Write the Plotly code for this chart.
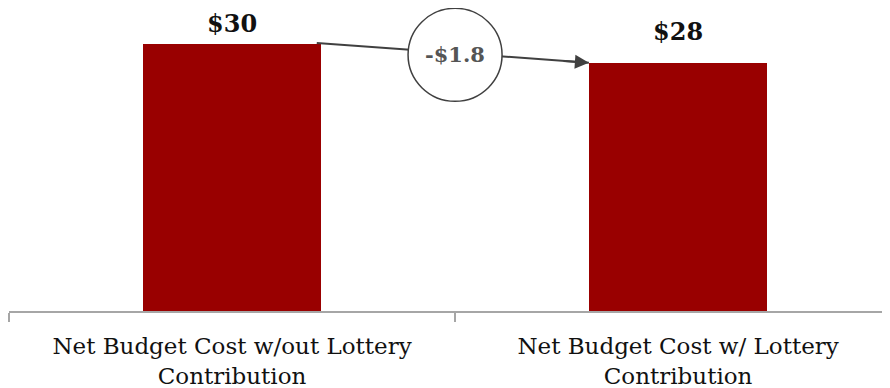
import plotly.graph_objects as go

categorias = ["Net Budget Cost w/out Lottery<br>Contribution",
              "Net Budget Cost w/ Lottery<br>Contribution"]
valores = [30.0, 27.9]
rotulos = ["$30", "$28"]
diferenca = "-$1.8"

cor_barra = "#990000"
cinza = "#404040"
cinza_eixo = "#a6a6a6"
largura = 0.4

fig = go.Figure()

fig.add_trace(go.Bar(x=categorias, y=valores, width=largura,
                     marker=dict(color=cor_barra, line=dict(width=0)),
                     hoverinfo="skip"))

# rotulos acima das barras
for i, (v, r, dy) in enumerate(zip(valores, rotulos, [4, 15])):
    fig.add_annotation(x=i, y=v, text=f"<b>{r}</b>", showarrow=False,
                       yanchor="bottom", yshift=dy,
                       font=dict(family="DejaVu Serif", size=24, color="#111111"))

# seta entre as barras
x0, y0 = 0 + largura / 2, valores[0]
x1, y1 = 1 - largura / 2, valores[1]
fig.add_shape(type="line", x0=x0 - 0.01, y0=y0 + 0.1, x1=x1, y1=y1, layer="above",
              line=dict(color=cinza, width=2))
t = 0.9
fig.add_annotation(x=x1, y=y1, ax=x0 + (x1 - x0) * t, ay=y0 + (y1 - y0) * t,
                   xref="x", yref="y", axref="x", ayref="y", text="",
                   showarrow=True, arrowhead=2, arrowsize=1.4, arrowwidth=2,
                   arrowcolor=cinza)

# circulo com a diferenca
xm, ym = (x0 + x1) / 2, (y0 + y1) / 2
fig.add_shape(type="circle", xref="x", yref="y", xsizemode="pixel", ysizemode="pixel",
              xanchor=xm, yanchor=ym, x0=-47, x1=47, y0=-48, y1=45, layer="above",
              fillcolor="white", line=dict(color=cinza, width=1.5))
fig.add_annotation(x=xm, y=ym, text=f"<b>{diferenca}</b>", showarrow=False,
                   yshift=-1,
                   font=dict(family="DejaVu Serif", size=21, color="#555555"))

fig.update_xaxes(type="category", range=[-0.5, 1.493], tickson="boundaries",
                 ticks="outside", ticklen=9, tickcolor=cinza_eixo, tickwidth=1.5,
                 showline=True, linecolor=cinza_eixo, linewidth=1.5,
                 showgrid=False, zeroline=False, automargin=False,
                 ticklabelstandoff=14,
                 tickfont=dict(family="DejaVu Serif", size=23, color="#111111"))
fig.update_yaxes(range=[0, 34.04], visible=False, showgrid=False)

# a pagina tem margem de 8px no body, compensada aqui
fig.update_layout(width=890, height=388, margin=dict(l=1, r=0, t=0, b=85),
                  plot_bgcolor="white", paper_bgcolor="white",
                  showlegend=False, bargap=0)

fig.write_html("out.html")
